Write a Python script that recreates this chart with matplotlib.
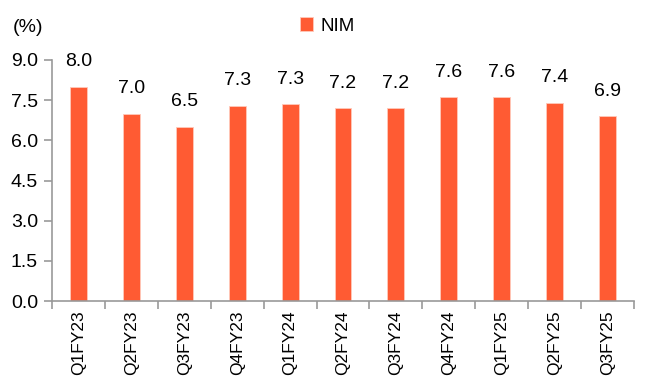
import matplotlib.pyplot as plt
import numpy as np

quarters = ['Q1FY23', 'Q2FY23', 'Q3FY23', 'Q4FY23', 'Q1FY24', 'Q2FY24',
            'Q3FY24', 'Q4FY24', 'Q1FY25', 'Q2FY25', 'Q3FY25']
nim = [8.0, 7.0, 6.5, 7.3, 7.34, 7.2, 7.2, 7.6, 7.6, 7.4, 6.9]
yticks = [0.0, 1.5, 3.0, 4.5, 6.0, 7.5, 9.0]

plt.rcParams['font.family'] = ['Liberation Sans', 'DejaVu Sans']
plt.rcParams['font.size'] = 13

fig = plt.figure(figsize=(6.55, 3.78), dpi=100)
ax = fig.add_axes([52 / 655, 1 - 301 / 378, 582 / 655, 241 / 378])

x = np.arange(len(quarters))
bars = ax.bar(x, nim, width=0.32, color='#FF5B33', edgecolor='#FFC9BA',
              linewidth=0.6, label='NIM')

for xi, v in zip(x, nim):
    ax.text(xi, v + 0.62, f"{v:.1f}", ha='center', va='bottom', fontsize=14)

ax.set_xlim(-0.5, len(quarters) - 0.5)
ax.set_ylim(0, 9.0)
ax.set_yticks(yticks)
ax.set_yticklabels([f"{t:.1f}" for t in yticks])

# ticks sit on the category boundaries, labels stay centred under bars
ax.set_xticks(x)
ax.set_xticklabels(quarters, rotation=90)
ax.set_xticks(np.arange(len(quarters) + 1) - 0.5, minor=True)
ax.tick_params(axis='x', which='major', length=0, pad=7, labelsize=12.5)
ax.tick_params(axis='x', which='minor', length=6, color='#999999', width=1.2)
ax.tick_params(axis='y', length=6, color='#999999', width=1.2, labelsize=14, pad=4)

for s in ['top', 'right']:
    ax.spines[s].set_visible(False)
for s in ['left', 'bottom']:
    ax.spines[s].set_color('#999999')
    ax.spines[s].set_linewidth(1.2)

fig.text(13 / 655, 1 - 27 / 378, '(%)', va='center', ha='left', fontsize=14)
fig.legend(handles=[bars], loc='center', bbox_to_anchor=(327 / 655, 1 - 26 / 378),
           frameon=False, handlelength=0.7, handleheight=0.7, handletextpad=0.4,
           fontsize=13.5)

fig.savefig('out.png', dpi=100)
